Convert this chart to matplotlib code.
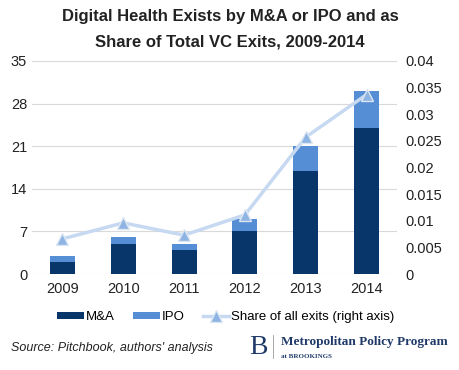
import matplotlib.pyplot as plt
import numpy as np

plt.rcParams['font.family'] = ['Liberation Sans', 'DejaVu Sans']

years = ['2009', '2010', '2011', '2012', '2013', '2014']
mna = [2, 5, 4, 7, 17, 24]
ipo = [1, 1, 1, 2, 4, 6]
share = [0.0066, 0.0096, 0.0073, 0.0111, 0.0257, 0.0337]

navy = '#08366b'
blue = '#558ed5'
light = '#c6d9f1'

fig = plt.figure(figsize=(4.6, 3.7), dpi=100)
ax = fig.add_axes([32/460, 1-274/370, 365/460, 213/370])
x = np.arange(len(years))
b1 = ax.bar(x, mna, width=0.41, color=navy, zorder=2)
b2 = ax.bar(x, ipo, width=0.41, bottom=mna, color=blue, zorder=2)
ax.set_xlim(-0.5, 5.5)
ax.set_ylim(0, 35)
ax.set_yticks(range(0, 36, 7))
ax.set_xticks(x)
ax.set_xticklabels(years)
ax.grid(axis='y', color='#d9d9d9', lw=0.8, zorder=0)
for s in ax.spines.values():
    s.set_visible(False)
ax.tick_params(length=0, labelsize=10.5, colors='#222222')
ax.tick_params(axis='x', pad=6)

ax2 = ax.twinx()
l, = ax2.plot(x, share, color=light, lw=2.5, marker='^', ms=8,
              markerfacecolor='#8eb4e3', markeredgecolor='#dce6f2', markeredgewidth=1, zorder=3)
ax2.set_ylim(0, 0.04)
ax2.set_yticks(np.arange(0, 0.0401, 0.005))
ax2.set_yticklabels(['0', '0.005', '0.01', '0.015', '0.02', '0.025', '0.03', '0.035', '0.04'])
for s in ax2.spines.values():
    s.set_visible(False)
ax2.tick_params(length=0, labelsize=10.5, colors='#222222', pad=6)

fig.text(0.5, 1-17/370, 'Digital Health Exists by M&A or IPO and as', ha='center', va='center',
         fontsize=12, fontweight='bold', color='#222222')
fig.text(0.5, 1-42/370, 'Share of Total VC Exits, 2009-2014', ha='center', va='center',
         fontsize=12, fontweight='bold', color='#222222')

fig.legend([b1, b2, l], ['M&A', 'IPO', 'Share of all exits (right axis)'],
           loc='center', bbox_to_anchor=(226/460, 1-317/370), ncol=3, frameon=False,
           fontsize=9.5, handlelength=2.0, handleheight=0.5, handletextpad=0.15,
           columnspacing=1.4)

fig.text(11/460, 1-348/370, "Source: Pitchbook, authors' analysis", ha='left', va='center',
         fontsize=9, style='italic', color='#222222')
fig.text(249/460, 1-347/370, 'B', ha='left', va='center', fontsize=20,
         family='Liberation Serif', color='#1f3a68')
fig.add_artist(plt.Line2D([273/460, 273/460], [1-335/370, 1-358/370], color='#999999', lw=0.6))
fig.text(281/460, 1-342/370, 'Metropolitan Policy Program', ha='left', va='center', fontsize=9.5,
         family='Liberation Serif', fontweight='bold', color='#1f3a68')
fig.text(281/460, 1-356/370, 'at BROOKINGS', ha='left', va='center', fontsize=5,
         family='Liberation Serif', fontweight='bold', color='#1f3a68')

fig.savefig('out.png', dpi=100)
